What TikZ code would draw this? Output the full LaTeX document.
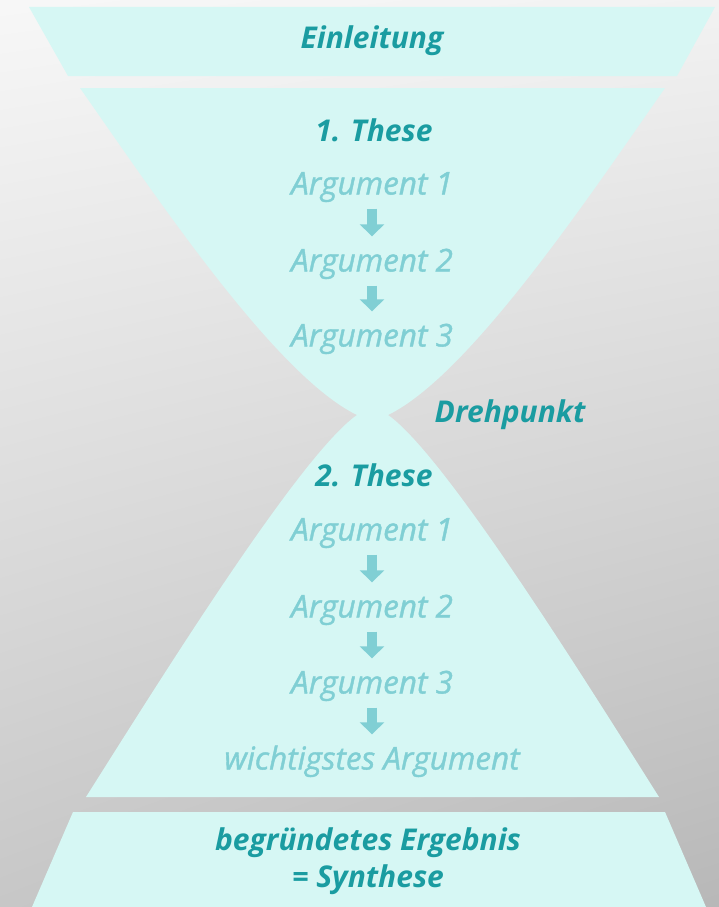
\documentclass[tikz,border=0pt]{standalone}
\usepackage{fontspec}
\setmainfont{Open Sans}
\newfontfamily\argschrift{Open Sans}[FakeBold=1.2]
\usetikzlibrary{positioning,arrows.meta,shadings}
\definecolor{trichter}{HTML}{D6F7F4}
\definecolor{dunkeltuerkis}{HTML}{1A9CA1}
\definecolor{helltuerkis}{HTML}{80CFD4}

\begin{document}
\begin{tikzpicture}[x=1pt,y=-1pt,
    titel/.style={font=\fontsize{30}{37}\selectfont\bfseries\itshape, text=dunkeltuerkis, inner sep=0pt},
    argument/.style={font=\argschrift\fontsize{31.5}{36}\selectfont\itshape, text=helltuerkis, inner sep=0pt, text height=22pt, text depth=7pt},
    pfeil/.style={-{Triangle[width=24pt,length=12pt]}, line width=10pt, draw=helltuerkis, shorten <=7pt, shorten >=13pt}]

    % Hintergrund
    \shade[upper left=white!97!black, upper right=white!95!black,
           lower left=white!78!black, lower right=white!72!black]
        (0,0) rectangle (719,907);
    \useasboundingbox (0,0) rectangle (719,907);

    % Einleitung und Ergebnis
    \fill[trichter] (29,7) -- (715,7) -- (677,76) -- (68,76) -- cycle;
    \fill[trichter] (73,812) -- (665,812) -- (706,907) -- (32,907) -- cycle;

    % Sanduhr
    \fill[trichter] (80,88) -- (665,88)
        .. controls (590,195) and (470,375) .. (388,415)
        .. controls (445,455) and (585,680) .. (659,797)
        -- (86,797)
        .. controls (160,680) and (300,455) .. (357,415)
        .. controls (275,375) and (155,195) .. (80,88) -- cycle;

    \node[titel] (einleitung) at (372,41) {Einleitung};

    \node[titel] (these1) at (374,130) {1. These};
    \node[argument] (o1) at (372,187) {Argument 1};
    \node[argument] (o2) at (372,264) {Argument 2};
    \node[argument] (o3) at (372,339) {Argument 3};
    \draw[pfeil] (o1) -- (o2);
    \draw[pfeil] (o2) -- (o3);

    \node[titel] (drehpunkt) at (510,415) {Drehpunkt};

    \node[titel] (these2) at (374,475) {2. These};
    \node[argument] (u1) at (372,533) {Argument 1};
    \node[argument] (u2) at (372,610) {Argument 2};
    \node[argument] (u3) at (372,686) {Argument 3};
    \node[argument] (u4) at (372,762) {wichtigstes Argument};
    \draw[pfeil] (u1) -- (u2);
    \draw[pfeil] (u2) -- (u3);
    \draw[pfeil] (u3) -- (u4);

    \node[titel, align=center] (ergebnis) at (368,861) {begründetes Ergebnis\\= Synthese};
\end{tikzpicture}
\end{document}
